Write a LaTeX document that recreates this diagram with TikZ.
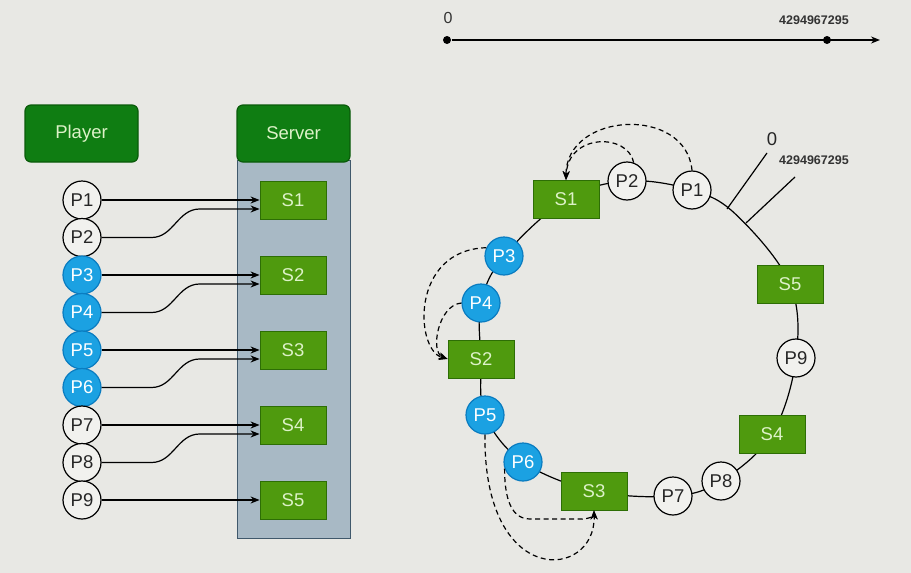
\documentclass[tikz,border=0pt]{standalone}
\usepackage{fontspec}
\setmainfont{Liberation Sans}
\usetikzlibrary{arrows.meta, calc, backgrounds}

\definecolor{bgc}{HTML}{E8E8E4}
\definecolor{hdrfill}{HTML}{0F7D12}
\definecolor{hdrline}{HTML}{0A5A0A}
\definecolor{srvfill}{HTML}{4F9A0E}
\definecolor{srvline}{HTML}{2D6E05}
\definecolor{srvtext}{HTML}{DDF2C8}
\definecolor{colfill}{HTML}{A8B9C5}
\definecolor{colline}{HTML}{3F586B}
\definecolor{bluefill}{HTML}{1BA1E2}
\definecolor{blueline}{HTML}{0A7CC0}
\definecolor{whitep}{HTML}{F1F1EE}

\begin{document}
\begin{tikzpicture}[
    x=1pt, y=-1pt,
    >={Stealth[length=9pt,width=7pt]},
    line width=1.2pt,
    every node/.style={font=\fontsize{18.5}{20}\selectfont},
    % estilos de las cajas y jugadores
    header/.style={draw=hdrline, fill=hdrfill, text=srvtext, rounded corners=6pt,
                   minimum width=113pt, minimum height=57pt, inner sep=0pt},
    column/.style={draw=colline, fill=colfill, line width=1pt,
                   minimum width=113pt, minimum height=378pt, inner sep=0pt},
    srv/.style={draw=srvline, fill=srvfill, text=srvtext, line width=0.8pt,
                minimum width=66pt, minimum height=38pt, inner sep=0pt},
    pw/.style={circle, draw=black, fill=whitep, text=black!85,
               minimum size=38pt, inner sep=0pt},
    pb/.style={circle, draw=blueline, fill=bluefill, text=white,
               minimum size=38pt, inner sep=0pt},
    dot/.style={circle, fill=black, minimum size=8pt, inner sep=0pt},
    link/.style={->, black},
    hop/.style={->, black, dash pattern=on 5pt off 3.5pt},
    bignum/.style={font=\fontsize{12.5}{14}\selectfont\bfseries, text=black!80}
]
    \useasboundingbox (0,0) rectangle (911,573);

    % --- 1. RECTA 0 .. 4294967295 ---
    \node[dot] (lo) at (447,40) {};
    \node[dot] (hi) at (827,40) {};
    \coordinate (axend) at (880,40);
    \draw[->, line width=1.5pt] (lo) -- (axend);
    \node[text=black!80, font=\fontsize{16}{18}\selectfont] (lolab) at (448,18) {0};
    \node[bignum] (hilab) at (814,20) {4294967295};

    % --- 2. CABECERAS Y COLUMNA DE SERVIDORES ---
    \node[header] (player) at (81.5,133.5) {Player};
    \node[column] (col) at (293.5,349) {};
    \node[header] (server) at (293.5,133.5) {Server};

    \node[srv] (s1) at (293,200) {S1};
    \node[srv] (s2) at (293,275) {S2};
    \node[srv] (s3) at (293,350) {S3};
    \node[srv] (s4) at (293,425) {S4};
    \node[srv] (s5) at (293,500) {S5};

    % --- 3. JUGADORES (IZQUIERDA) ---
    \node[pw] (p1) at (82,200) {P1};
    \node[pw] (p2) at (82,237.5) {P2};
    \node[pb] (p3) at (82,275) {P3};
    \node[pb] (p4) at (82,312.5) {P4};
    \node[pb] (p5) at (82,350) {P5};
    \node[pb] (p6) at (82,387.5) {P6};
    \node[pw] (p7) at (82,425) {P7};
    \node[pw] (p8) at (82,462.5) {P8};
    \node[pw] (p9) at (82,500) {P9};

    % --- 4. ASIGNACION JUGADOR -> SERVIDOR ---
    \draw[link] (p1) -- (s1);
    \draw[link] (p2.east) -- ++(50,0) to[out=0,in=180] ($(s1.west)+(-60,9)$) -- ($(s1.west)+(0,9)$);
    \draw[link] (p3) -- (s2);
    \draw[link] (p4.east) -- ++(50,0) to[out=0,in=180] ($(s2.west)+(-60,9)$) -- ($(s2.west)+(0,9)$);
    \draw[link] (p5) -- (s3);
    \draw[link] (p6.east) -- ++(50,0) to[out=0,in=180] ($(s3.west)+(-60,9)$) -- ($(s3.west)+(0,9)$);
    \draw[link] (p7) -- (s4);
    \draw[link] (p8.east) -- ++(50,0) to[out=0,in=180] ($(s4.west)+(-60,9)$) -- ($(s4.west)+(0,9)$);
    \draw[link] (p9) -- (s5);

    % --- 5. ANILLO (HASH RING) ---
    \node[srv] (rs1) at (566,199.5) {S1};
    \node[srv] (rs2) at (481,359) {S2};
    \node[srv] (rs3) at (594,491) {S3};
    \node[srv] (rs4) at (772,434) {S4};
    \node[srv] (rs5) at (790,284) {S5};

    \node[pw] (rp1) at (692,190) {P1};
    \node[pw] (rp2) at (627,181) {P2};
    \node[pb] (rp3) at (504,256) {P3};
    \node[pb] (rp4) at (481,303) {P4};
    \node[pb] (rp5) at (485,415) {P5};
    \node[pb] (rp6) at (523,462) {P6};
    \node[pw] (rp7) at (673,496) {P7};
    \node[pw] (rp8) at (721,481) {P8};
    \node[pw] (rp9) at (796,358) {P9};

    % marcas de inicio / fin del anillo
    \coordinate (tm) at (737,215.5);
    \coordinate (t0) at (727,209);
    \coordinate (t1) at (746,223);
    \coordinate (t0end) at (767,153);
    \coordinate (t1end) at (795,177);
    \draw (t0) -- (t0end);
    \draw (t1) -- (t1end);
    \node[text=black!85] (zerolab) at (772,139) {0};
    \node[bignum] (maxlab) at (814,160) {4294967295};

    \begin{scope}[on background layer]
        \fill[bgc] (0,0) rectangle (911,573);
        \draw[line width=1.2pt] plot[smooth cycle, tension=0.6] coordinates {(rs1) (rp2) (rp1) (tm) (rs5) (rp9) (rs4) (rp8) (rp7) (rs3) (rp6) (rp5) (rs2) (rp4) (rp3)};
    \end{scope}

    % --- 6. SALTOS AL SIGUIENTE SERVIDOR ---
    \draw[hop] (rp1.north) .. controls (686,105) and (566,112) .. (rs1.north);
    \draw[hop] (rp2.70) .. controls (628,133) and (568,133) .. (rs1.north);

    \draw[hop] (rp3.155) .. controls (410,250) and (415,350) .. (rs2.west);
    \draw[hop] (rp4.west) .. controls (438,305) and (430,352) .. (rs2.west);

    \draw[hop] (rp5.south) .. controls (483,590) and (596,580) .. (rs3.south);
    \draw[hop] (rp6.200) to[out=-90,in=180] (530,519) -- (582,519) to[out=0,in=-90] (rs3.south);

\end{tikzpicture}
\end{document}
